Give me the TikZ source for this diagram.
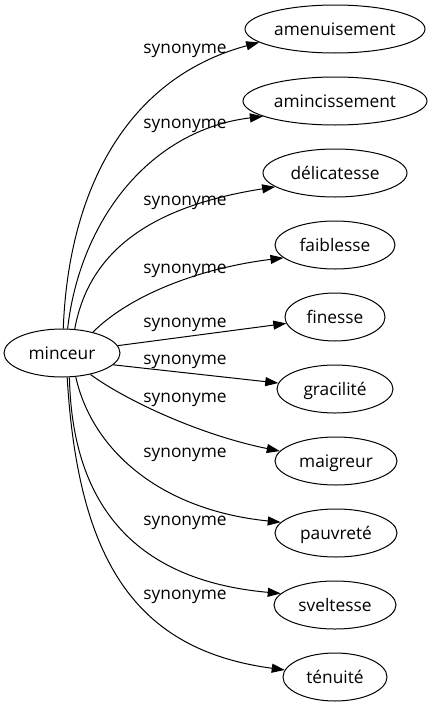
\documentclass[tikz,border=0pt]{standalone}
\usepackage{fontspec}
\setmainfont{Open Sans}
\usetikzlibrary{shapes.geometric,arrows.meta}
\begin{document}
\begin{tikzpicture}[x=1pt,y=-1pt,
  word/.style={draw, ellipse, inner sep=0pt, line width=1pt, minimum height=48pt,
    text height=16pt, text depth=4pt, font=\fontsize{17.3}{20}\selectfont},
  rel/.style={font=\fontsize{17.3}{20}\selectfont, anchor=base, inner sep=0pt},
  link/.style={line width=1pt, -{Triangle[length=13pt,width=9pt]}}]
\useasboundingbox (0,0) rectangle (432,707);
\node[word, minimum width=116pt] (m) at (62,353) {minceur};
\node[word, minimum width=180pt] (a1) at (335,29) {amenuisement};
\node[word, minimum width=184pt] (a2) at (335,101) {amincissement};
\node[word, minimum width=144pt] (a3) at (335,173) {délicatesse};
\node[word, minimum width=120pt] (a4) at (335,245) {faiblesse};
\node[word, minimum width=100pt] (a5) at (335,317) {finesse};
\node[word, minimum width=116pt] (a6) at (335,389) {gracilité};
\node[word, minimum width=122pt] (a7) at (336,461) {maigreur};
\node[word, minimum width=122pt] (a8) at (336,533) {pauvreté};
\node[word, minimum width=122pt] (a9) at (335,605) {sveltesse};
\node[word, minimum width=104pt] (a10) at (335,677) {ténuité};

\draw[link] (m.87) .. controls (68,200) and (120,80) .. (a1.190);
\draw[link] (m.77) .. controls (80,220) and (150,130) .. (a2.192);
\draw[link] (m.62) .. controls (90,245) and (160,205) .. (a3.193);
\draw[link] (m.34) .. controls (130,295) and (200,268) .. (a4.194);
\draw[link] (m) -- (a5);
\draw[link] (m.347) -- (a6.174);
\draw[link] (m.323) .. controls (125,400) and (200,435) .. (a7.170);
\draw[link] (m.300) .. controls (92,450) and (160,510) .. (a8.169);
\draw[link] (m.287) .. controls (72,500) and (130,580) .. (a9.168);
\draw[link] (m.282) .. controls (78,560) and (135,650) .. (a10.172);

\node[rel] (l1) at (185,53) {synonyme};
\node[rel] (l2) at (185,128) {synonyme};
\node[rel] (l3) at (185,205) {synonyme};
\node[rel] (l4) at (185,273) {synonyme};
\node[rel] (l5) at (185,327) {synonyme};
\node[rel] (l6) at (185,364) {synonyme};
\node[rel] (l7) at (185,402) {synonyme};
\node[rel] (l8) at (185,457) {synonyme};
\node[rel] (l9) at (185,525) {synonyme};
\node[rel] (l10) at (185,599) {synonyme};
\end{tikzpicture}
\end{document}
